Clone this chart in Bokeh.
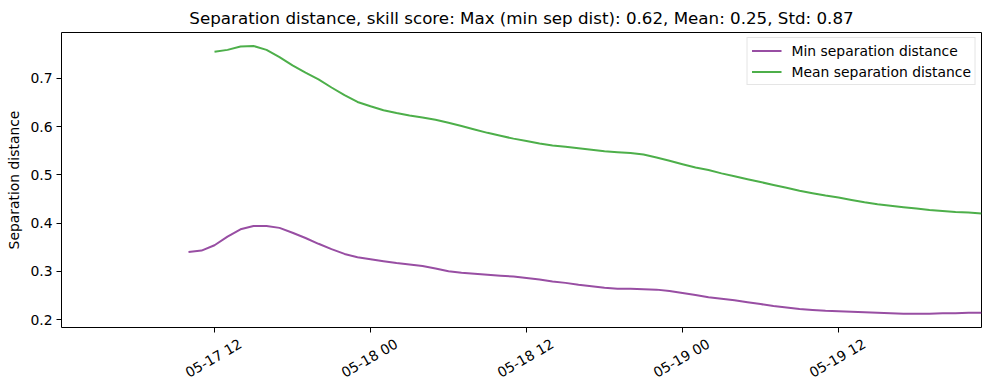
import math
import pandas as pd
from bokeh.plotting import figure
from bokeh.models import (Range1d, FixedTicker, Legend, LegendItem,
                          ColumnDataSource, DatetimeAxis)
from bokeh.embed import file_html
from bokeh.resources import INLINE

# ---------------- data ----------------
title_text = "Separation distance, skill score: Max (min sep dist): 0.62, Mean: 0.25, Std: 0.87"
series_names = ["Min separation distance", "Mean separation distance"]

min_start = "2024-05-17 10:00"   # hourly samples
min_sep = [0.340, 0.343, 0.354, 0.372, 0.387, 0.394, 0.394, 0.390, 0.380, 0.369,
           0.357, 0.346, 0.336, 0.329, 0.325, 0.321, 0.317, 0.314, 0.311, 0.306,
           0.300, 0.297, 0.295, 0.293, 0.291, 0.289, 0.286, 0.283, 0.279, 0.276,
           0.272, 0.269, 0.266, 0.264, 0.264, 0.263, 0.262, 0.259, 0.255, 0.251,
           0.246, 0.243, 0.240, 0.236, 0.232, 0.228, 0.225, 0.222, 0.220, 0.218,
           0.217, 0.216, 0.215, 0.214, 0.213, 0.212, 0.212, 0.212, 0.213, 0.213,
           0.214, 0.214]

mean_start = "2024-05-17 12:00"  # hourly samples
mean_sep = [0.755, 0.759, 0.766, 0.767, 0.759, 0.744, 0.727, 0.712, 0.698, 0.681,
            0.665, 0.651, 0.642, 0.634, 0.628, 0.623, 0.619, 0.614, 0.608, 0.601,
            0.594, 0.587, 0.581, 0.575, 0.570, 0.565, 0.561, 0.558, 0.555, 0.552,
            0.549, 0.547, 0.545, 0.542, 0.536, 0.529, 0.522, 0.515, 0.510, 0.503,
            0.497, 0.491, 0.485, 0.479, 0.473, 0.467, 0.462, 0.457, 0.453, 0.448,
            0.443, 0.439, 0.436, 0.433, 0.430, 0.427, 0.425, 0.423, 0.422, 0.420]

x_tick_times = ["2024-05-17 12:00", "2024-05-18 00:00", "2024-05-18 12:00",
                "2024-05-19 00:00", "2024-05-19 12:00"]
x_tick_labels = ["05-17 12", "05-18 00", "05-18 12", "05-19 00", "05-19 12"]
y_ticks = [0.2, 0.3, 0.4, 0.5, 0.6, 0.7]
colors = ["#984ea3", "#4daf4a"]

# ---------------- build ----------------
min_t = pd.date_range(min_start, periods=len(min_sep), freq="h")
mean_t = pd.date_range(mean_start, periods=len(mean_sep), freq="h")
tick_t = pd.to_datetime(x_tick_times)

FONT = "DejaVu Sans"
FS = "13.9px"
Y0, Y1 = 0.1835, 0.795
x_start = tick_t[0] - pd.Timedelta(hours=11.77)
x_end = mean_t[-1]

p = figure(width=989, height=390, x_axis_type="datetime",
           output_backend="svg", toolbar_location=None,
           x_range=Range1d(x_start, x_end), y_range=Range1d(Y0, Y1),
           min_border_left=61, min_border_right=8, min_border_top=30,
           min_border_bottom=63)

p.background_fill_color = "white"
p.border_fill_color = "white"
p.outline_line_color = "black"
p.outline_line_width = 1
p.xgrid.visible = False
p.ygrid.visible = False

s_min = ColumnDataSource(dict(t=min_t, v=min_sep))
s_mean = ColumnDataSource(dict(t=mean_t, v=mean_sep))
r1 = p.line("t", "v", source=s_min, line_color=colors[0], line_width=2)
r2 = p.line("t", "v", source=s_mean, line_color=colors[1], line_width=2)

p.title.text = title_text
p.title.align = "center"
p.title.text_font = FONT
p.title.text_font_size = "16.7px"
p.title.text_font_style = "normal"
p.title.text_color = "black"

tick_ms = [t.value / 1e6 for t in tick_t]

# axis 1 (next to the frame): tick marks only
xa = p.xaxis[0]
xa.ticker = FixedTicker(ticks=tick_ms)
xa.major_label_overrides = {m: "" for m in tick_ms}
xa.major_label_standoff = 0

ya = p.yaxis[0]
ya.ticker = FixedTicker(ticks=y_ticks)
ya.axis_label = "Separation distance"
ya.major_label_standoff = 4
ya.axis_label_standoff = 5

for ax in (xa, ya):
    ax.axis_line_color = None
    ax.major_tick_in = 0
    ax.major_tick_out = 5
    ax.major_tick_line_color = "black"
    ax.minor_tick_line_color = None
    ax.major_label_text_font = FONT
    ax.major_label_text_font_size = FS
    ax.major_label_text_color = "black"
    ax.axis_label_text_font = FONT
    ax.axis_label_text_font_size = FS
    ax.axis_label_text_font_style = "normal"
    ax.axis_label_text_color = "black"

# axis 2: rotated labels; Bokeh anchors a rotated label by its right end,
# so the label anchor is moved right by half a label width to centre it
half_label = pd.Timedelta(hours=2.0)
lab_ms = [(t + half_label).value / 1e6 for t in tick_t]
xl = DatetimeAxis(ticker=FixedTicker(ticks=lab_ms),
                  major_label_overrides={m: s for m, s in zip(lab_ms, x_tick_labels)},
                  major_label_orientation=math.pi / 6,
                  major_label_standoff=4,
                  axis_line_color=None, major_tick_line_color=None,
                  minor_tick_line_color=None,
                  major_label_text_font=FONT, major_label_text_font_size=FS,
                  major_label_text_color="black")
p.add_layout(xl, "below")

legend = Legend(items=[LegendItem(label=series_names[0], renderers=[r1]),
                       LegendItem(label=series_names[1], renderers=[r2])],
                location="top_right")
legend.margin = 5
legend.padding = 4
legend.spacing = 4
legend.glyph_width = 30
legend.glyph_height = 17
legend.label_height = 17
legend.label_standoff = 10
legend.label_text_font = FONT
legend.label_text_font_size = FS
legend.label_text_color = "black"
legend.border_line_color = "#cccccc"
legend.border_line_width = 1
legend.background_fill_alpha = 0.8
p.add_layout(legend)

open("out.html", "w").write(file_html(p, INLINE))
